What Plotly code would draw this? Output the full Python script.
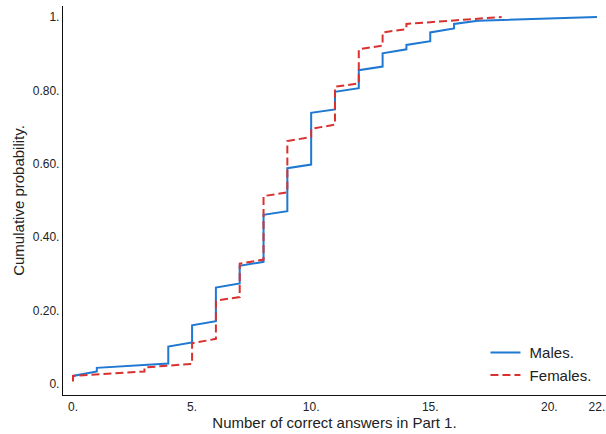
import plotly.graph_objects as go

# Empirical cumulative distribution of Part 1 scores by gender.
# For each observed score: cumulative share at the first and last respondent with that score.
males_scores = [0, 1, 4, 5, 6, 7, 8, 9, 10, 11, 12, 13, 14, 15, 16, 17, 22]
males_first = [0.010, 0.034, 0.056, 0.113, 0.171, 0.274, 0.333, 0.471, 0.598,
               0.748, 0.806, 0.865, 0.912, 0.934, 0.969, 0.990, 1.000]
males_last = [0.022, 0.044, 0.102, 0.160, 0.263, 0.322, 0.461, 0.588, 0.739,
              0.796, 0.855, 0.901, 0.924, 0.958, 0.981, 0.990, 1.000]

females_scores = [0, 3, 5, 6, 7, 8, 9, 10, 11, 12, 13, 14, 15, 16, 17, 18]
females_first = [0.007, 0.034, 0.055, 0.123, 0.237, 0.339, 0.522, 0.673, 0.707,
                 0.819, 0.922, 0.967, 0.986, 0.991, 0.996, 1.000]
females_last = [0.022, 0.045, 0.111, 0.227, 0.328, 0.512, 0.662, 0.695, 0.810,
                0.912, 0.958, 0.981, 0.986, 0.991, 0.996, 1.000]

x_tick_vals = [0, 5, 10, 15, 20, 22]
x_tick_text = ["0.", "5.", "10.", "15.", "20.", "22."]
y_tick_vals = [0, 0.2, 0.4, 0.6, 0.8, 1.0]
y_tick_text = ["0.", "0.20.", "0.40.", "0.60.", "0.80.", "1."]


def step_path(scores, first, last):
    xs, ys = [], []
    for s, a, b in zip(scores, first, last):
        xs += [s, s]
        ys += [a, b]
    return xs, ys


FONT = "Liberation Sans, Arial, sans-serif"

mx, my = step_path(males_scores, males_first, males_last)
fx, fy = step_path(females_scores, females_first, females_last)

fig = go.Figure()
fig.add_trace(go.Scatter(x=mx, y=my, mode="lines", name="\u00a0Males.",
                         line=dict(color="#1f78d1", width=2)))
fig.add_trace(go.Scatter(x=fx, y=fy, mode="lines", name="\u00a0Females.",
                         line=dict(color="#d9312f", width=2, dash="8px,4px")))

fig.update_layout(
    width=606, height=434,
    margin=dict(l=63, r=0, t=6, b=39),
    paper_bgcolor="white", plot_bgcolor="white",
    font=dict(family=FONT, size=12, color="#222222"),
    showlegend=True,
    legend=dict(x=0.778, y=0.151, xanchor="left", yanchor="top",
                bgcolor="rgba(0,0,0,0)", font=dict(size=15, color="#222222"),
                tracegroupgap=0),
    xaxis=dict(range=[-0.42, 22.38], showgrid=False, zeroline=False,
               showline=True, linecolor="#111111", linewidth=1.3,
               tickmode="array", tickvals=x_tick_vals, ticktext=x_tick_text,
               ticks="", tickfont=dict(size=12),
               title=dict(text="Number of correct answers in Part 1.",
                          font=dict(size=15), standoff=3)),
    yaxis=dict(range=[-0.03, 1.03], showgrid=False, zeroline=False,
               showline=True, linecolor="#111111", linewidth=1.3,
               tickmode="array", tickvals=y_tick_vals, ticktext=y_tick_text,
               ticks="", tickfont=dict(size=12),
               title=dict(text="Cumulative probability.",
                          font=dict(size=15), standoff=4)),
)

fig.write_html("out.html")
